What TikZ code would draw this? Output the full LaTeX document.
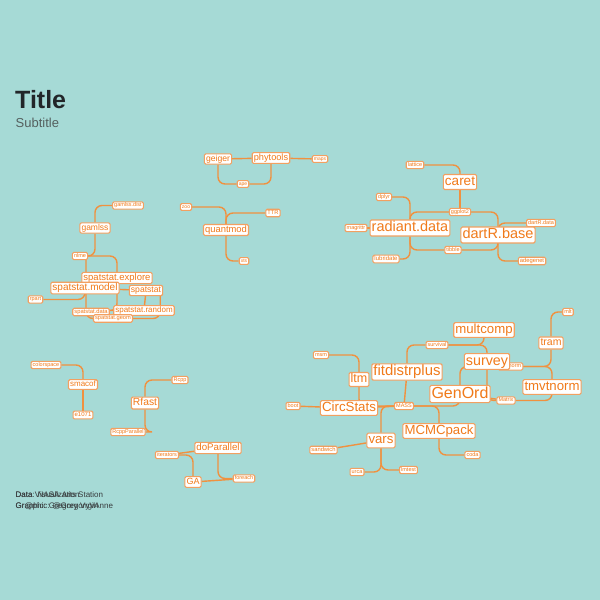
\documentclass[tikz,border=0pt]{standalone}
\usepackage{fontspec}
\setmainfont{Liberation Sans}
\definecolor{bgc}{HTML}{A6DAD6}
\definecolor{ortxt}{HTML}{F07A1A}
\definecolor{orline}{HTML}{F0913F}
\definecolor{orbox}{HTML}{F2A061}
\definecolor{ttl}{HTML}{222629}
\definecolor{sub}{HTML}{55605F}
\pgfdeclarelayer{edgelayer}
\pgfsetlayers{edgelayer,main}
\tikzset{
  pk/.style={draw=orbox, fill=white, text=ortxt, rounded corners=1.3pt,
    line width=1.1pt, inner xsep=1.6pt, inner ysep=1pt,
    text height=#1pt*0.74, text depth=#1pt*0.22,
    font=\fontsize{#1}{#1}\selectfont},
  e/.style={draw=orline, line width=1.4pt, rounded corners=7pt},
  captxt/.style={anchor=base west, text=ttl!90, font=\fontsize{8}{8}\selectfont, inner sep=0pt}
}
\begin{document}
\begin{tikzpicture}[x=1pt,y=-1pt]
\begin{pgfonlayer}{edgelayer}
\fill[bgc] (0,0) rectangle (600,600);
\end{pgfonlayer}
\useasboundingbox (0,0) rectangle (600,600);

% title
\node[anchor=base west, inner sep=0pt, text=ttl, font=\fontsize{25}{25}\selectfont\bfseries] (title) at (15,108) {Title};
\node[anchor=base west, inner sep=0pt, text=sub, font=\fontsize{13}{13}\selectfont] (subtitle) at (15.5,127) {Subtitle};

% top cluster
\node[pk=8.6] (geiger) at (218,159) {geiger};
\node[pk=9.2] (phytools) at (271,158) {phytools};
\node[pk=5] (maps) at (320,159) {maps};
\node[pk=5] (ape) at (243,184) {ape};

% quantmod
\node[pk=5] (zoo) at (186,207) {zoo};
\node[pk=5.7] (TTR) at (273,213) {TTR};
\node[pk=9.4] (quantmod) at (226,230) {quantmod};
\node[pk=5] (xts) at (244,261) {xts};

% radiant cluster
\node[pk=5.5] (lattice) at (415,165) {lattice};
\node[pk=13.5] (caret) at (460,182) {caret};
\node[pk=5.5] (dplyr) at (384,197) {dplyr};
\node[pk=5.5] (ggplot2) at (460,212) {ggplot2};
\node[pk=5.5] (magrittr) at (356,228) {magrittr};
\node[pk=14.5] (rdata) at (410,228) {radiant.data};
\node[pk=5.5] (dartRdata) at (541,223) {dartR.data};
\node[pk=14.5] (dartR) at (498,235) {dartR.base};
\node[pk=5.5] (tibble) at (453,250) {tibble};
\node[pk=6] (lubridate) at (386,259) {lubridate};
\node[pk=5.8] (adegenet) at (532,261) {adegenet};

% gamlss / spatstat
\node[pk=5.5] (gamlssdist) at (128,205.5) {gamlss.dist};
\node[pk=8.5] (gamlss) at (95,228) {gamlss};
\node[pk=5.5] (nlme) at (80,256) {nlme};
\node[pk=9.5] (sexplore) at (117,278) {spatstat.explore};
\node[pk=10] (smodel) at (85,288) {spatstat.model};
\node[pk=8.6] (spatstat) at (146,290.5) {spatstat};
\node[pk=5.5] (rpart) at (35.5,299.5) {rpart};
\node[pk=5.8] (sdata) at (91,312) {spatstat.data};
\node[pk=8] (srandom) at (144,310.5) {spatstat.random};
\node[pk=5.7] (sgeom) at (113,318.5) {spatstat.geom};

% left bottom
\node[pk=5.5] (colorspace) at (46,365) {colorspace};
\node[pk=8] (smacof) at (83,384.5) {smacof};
\node[pk=6] (e1071) at (83,415) {e1071};
\node[pk=5.5] (Rcpp) at (180,380) {Rcpp};
\node[pk=10.3] (Rfast) at (145,403) {Rfast};
\node[pk=5.5] (RcppParallel) at (128,432) {RcppParallel};
\node[pk=9.7] (doParallel) at (218,448) {doParallel};
\node[pk=5.5] (iterators) at (167,455) {iterators};
\node[pk=9] (GA) at (193,482) {GA};
\node[pk=5.5] (foreach) at (244,478.5) {foreach};

% right cluster
\node[pk=5.5] (msm) at (321,355) {msm};
\node[pk=12.5] (ltm) at (359,379.5) {ltm};
\node[pk=14.9] (fitdistrplus) at (407,372) {fitdistrplus};
\node[pk=5.5] (survival) at (437,345) {survival};
\node[pk=13.2] (multcomp) at (484,330) {multcomp};
\node[pk=5.5] (mvtnorm) at (510.5,366.5) {mvtnorm};
\node[pk=14.3] (survey) at (487,361.5) {survey};
\node[pk=10.5] (tram) at (551,343) {tram};
\node[pk=5.5] (mlt) at (568,312) {mlt};
\node[pk=13.2] (tmvtnorm) at (552,387) {tmvtnorm};
\node[pk=16] (GenOrd) at (460,394) {GenOrd};
\node[pk=5.5] (Matrix) at (506,400.5) {Matrix};
\node[pk=5.5] (boot) at (293,406) {boot};
\node[pk=13.3] (CircStats) at (349,408) {CircStats};
\node[pk=5.5] (MASS) at (404,406) {MASS};
\node[pk=13.2] (MCMCpack) at (439,431) {MCMCpack};
\node[pk=13.2] (vars) at (381,440.5) {vars};
\node[pk=5.8] (sandwich) at (323.5,450) {sandwich};
\node[pk=5.5] (coda) at (472.5,455) {coda};
\node[pk=5.5] (lmtest) at (408.5,470) {lmtest};
\node[pk=5.5] (urca) at (357,472) {urca};

% caption
\node[captxt] (c1) at (15.5,497) {Data Visualization};
\node[captxt] (c2) at (15.5,497) {Data: NASA Arts Station};
\node[captxt] (c3) at (15.5,508) {Graphic: Gregory Vrgin};
\node[captxt] (c4) at (15.5,508) {Gr@phic: @GregoryVAnne};

\begin{pgfonlayer}{edgelayer}
\draw[e] (geiger) -- (phytools);
\draw[e] (phytools) -- (maps);
\draw[e] (geiger) |- (ape);
\draw[e] (phytools) |- (ape);

\draw[e] (zoo) -| (quantmod);
\draw[e] (quantmod) |- (TTR);
\draw[e] (quantmod) |- (xts);

\draw[e] (lattice) -| (caret);
\draw[e] (caret) -- (ggplot2);
\draw[e] (dplyr) -| (rdata);
\draw[e] (ggplot2) -| (rdata);
\draw[e] (ggplot2) -| (dartR);
\draw[e] (magrittr) -- (rdata);
\draw[e] (rdata) |- (lubridate);
\draw[e] (rdata) |- (tibble);
\draw[e] (tibble) -| (dartR);
\draw[e] (dartR) |- (dartRdata);
\draw[e] (dartR) |- (adegenet);

\draw[e] (gamlss) |- (gamlssdist);
\draw[e] (gamlss) |- (nlme);
\draw[e] (nlme) -| (sexplore);
\draw[e] ([xshift=6pt]nlme.south) |- (sgeom);
\draw[e] (rpart) -| (smodel);
\draw[e] (smodel) -- (spatstat);
\draw[e] (sexplore) |- (srandom);
\draw[e] (spatstat) -- (srandom);
\draw[e] ([xshift=-3pt]spatstat.south east) |- (sgeom);

\draw[e] (colorspace) -| (smacof);
\draw[e] (smacof) -- (e1071);
\draw[e] (Rfast) |- (Rcpp);
\draw[e] (Rfast) |- (RcppParallel);
\draw[e] (iterators) -- (doParallel);
\draw[e] (iterators) -| (GA);
\draw[e] (doParallel) |- (foreach);
\draw[e] (GA) -- (foreach);

\draw[e] (msm) -| (ltm);
\draw[e] (ltm) |- (MASS);
\draw[e] (boot) -- (CircStats);
\draw[e] (CircStats) -- (MASS);
\draw[e] (fitdistrplus) -- (MASS);
\draw[e] (fitdistrplus) |- (survival);
\draw[e] (survival) -| (multcomp);
\draw[e] (survival) -| (survey);
\draw[e] (survey) |- (Matrix);
\draw[e] (GenOrd) -- (Matrix);
\draw[e] (GenOrd) |- (mvtnorm);
\draw[e] (MASS) -| (GenOrd);
\draw[e] (MASS) -| (MCMCpack);
\draw[e] (MCMCpack) |- (coda);
\draw[e] (MASS) -| (vars);
\draw[e] (sandwich) -- (vars);
\draw[e] (vars) |- (urca);
\draw[e] (vars) |- (lmtest);
\draw[e] (tram) |- (mlt);
\draw[e] (tram) |- (mvtnorm);
\draw[e] (mvtnorm) -| (tmvtnorm);
\draw[e] (tmvtnorm) |- (Matrix);
\end{pgfonlayer}
\end{tikzpicture}
\end{document}
